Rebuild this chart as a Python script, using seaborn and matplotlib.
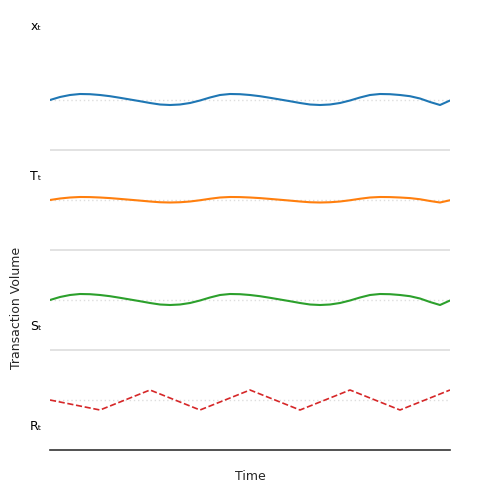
import matplotlib
matplotlib.use("Agg")
import matplotlib.pyplot as plt
import seaborn as sns
import numpy as np

t = list(range(41))
x_vals = [0,3,5,6,5.8,5,3.8,2.2,0.5,-1.2,-3,-4.5,-5,-4.5,-3,-0.5,2.5,5,6,
          5.8,5,3.8,2.2,0.5,-1.2,-3,-4.5,-5,-4.5,-3,-0.5,2.5,5,6,
          5.8,5,3.8,1.5,-2,-5,-0.5]
T_vals = [v * 0.5 for v in x_vals]
S_vals = list(x_vals)
r_t = list(range(0, 41, 5))
R_vals = [0, -10, 10, -10, 10, -10, 10, -10, 10]
labels = ["xₜ", "Tₜ", "Sₜ", "Rₜ"]
label_y = [423, 273, 123, 23]
offsets = [350, 250, 150, 50]
colors = ["#1f77b4", "#ff7f0e", "#2ca02c", "#d62728"]

sns.set_style("white")
fig = plt.figure(figsize=(5, 5), dpi=100)
ax = fig.add_axes([0.1, 0.1, 0.8, 0.8])
series = [(t, x_vals), (t, T_vals), (t, S_vals), (r_t, R_vals)]
for i, ((tt, vv), off, c) in enumerate(zip(series, offsets, colors)):
    ax.axhline(off, color="#dddddd", lw=1, ls=(0, (1, 2)), zorder=0)
    sns.lineplot(x=tt, y=[v + off for v in vv], color=c, lw=1.5 if i < 3 else 1.2,
                 ls="-" if i < 3 else "--", ax=ax)
    ax.text(-0.035, label_y[i], labels[i], transform=ax.get_yaxis_transform(),
            fontsize=9, ha="center", va="center", color="black", clip_on=False)
for y in [300, 200, 100]:
    ax.axhline(y, color="#dddddd", lw=1.2, zorder=0)
ax.set_xlim(0, 40)
ax.set_ylim(0, 400)
ax.set_xticks([]); ax.set_yticks([])
for s in ["top", "right", "left"]:
    ax.spines[s].set_visible(False)
ax.spines["bottom"].set_color("#333333")
ax.spines["bottom"].set_linewidth(1.2)
fig.text(0.5, 0.048, "Time", ha="center", va="center", fontsize=9)
fig.text(0.034, 0.385, "Transaction Volume", rotation=90, ha="center", va="center", fontsize=9)
fig.savefig("out.png", dpi=100)
